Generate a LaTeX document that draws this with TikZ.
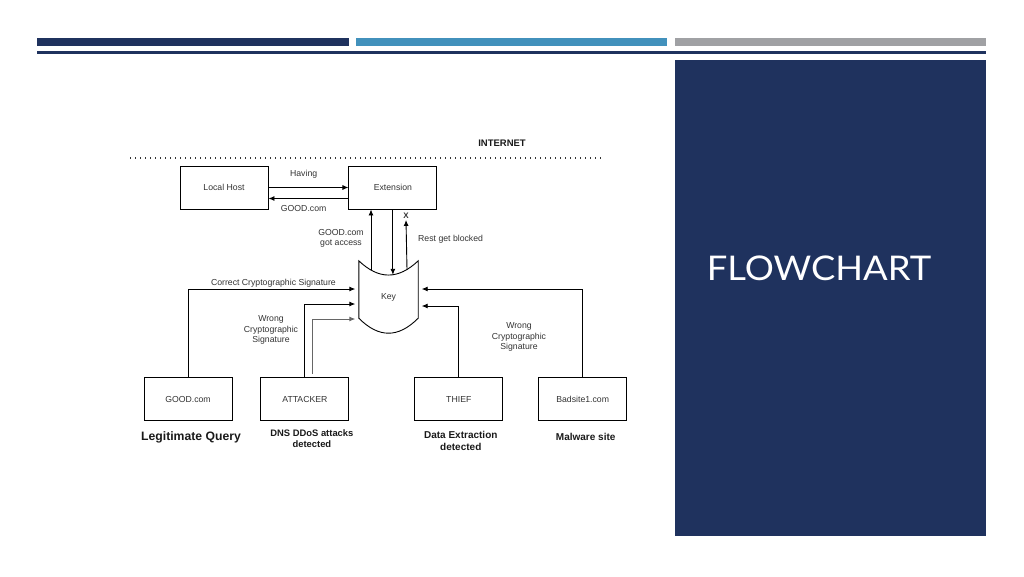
\documentclass[tikz,border=0pt]{standalone}
\usepackage{fontspec}
\setmainfont{Liberation Sans}
\newfontfamily\titlefont[FakeStretch=1.07]{Lato}
\usetikzlibrary{
    arrows.meta,      % For Latex arrowheads
    positioning,      % For right=of, below=of
    calc              % For points on the key shape
}
\definecolor{navy}{RGB}{31,50,94}
\definecolor{steel}{RGB}{66,145,188}
\definecolor{silver}{RGB}{160,161,164}
\definecolor{ink}{RGB}{51,51,51}
\tikzset{
  % Style for the plain boxes
  box/.style={
    rectangle, draw, line width=0.9pt, minimum width=88pt,
    minimum height=43pt, text=ink, font=\fontsize{8.7}{10}\selectfont
  },
  % Style for labels next to the arrows
  lbl/.style={
    text=ink, align=center, inner sep=1pt,
    font=\fontsize{8.7}{10.2}\selectfont
  },
  % Style for bold captions under the boxes
  caption/.style={
    align=center, inner sep=0pt, text=black!90,
    font=\bfseries\fontsize{10}{12}\selectfont
  },
  % Style for arrows
  arrow/.style={
    -{Latex[length=6pt,width=5pt]}, line width=0.9pt
  }
}

\begin{document}
\begin{tikzpicture}[x=1pt, y=-1pt, node distance=28pt]
    \useasboundingbox (0,0) rectangle (1024,576);
    % slide frame
    \fill[navy] (37,38) rectangle (349,46);
    \fill[steel] (356,38) rectangle (667,46);
    \fill[silver] (675,38) rectangle (986,46);
    \fill[navy] (37,51) rectangle (986,53.5);
    \fill[navy] (675,60) rectangle (986,536);
    \node (title) at (819,268) [text=white, font=\titlefont\fontsize{34}{36}\selectfont] {FLOWCHART};

    \node (internet) at (502,143) [font=\bfseries\fontsize{9.5}{11}\selectfont, text=black!90] {INTERNET};
    \draw[line width=1.4pt, dash pattern=on 1.4pt off 3.6pt, ink] (130,158) -- (603,158);

    \node[box] (lhost) at (224,187.5) {Local Host};
    \node[box, right=80pt of lhost] (ext) {Extension};

    \draw[arrow] (lhost.east) -- node[lbl, pos=0.44, above=8pt] {Having} (ext.west);
    \draw[arrow] ([yshift=-11pt]ext.west) -- node[lbl, pos=0.56, below=5pt] {GOOD.com} ([yshift=-11pt]lhost.east);

    % key shape
    \node (key) at (388.5,297) [minimum width=59pt, minimum height=72pt, lbl] {Key};
    \draw[line width=0.9pt] (key.north west) .. controls +(20,19) and +(-20,19) .. (key.north east)
        -- ([yshift=15pt]key.south east) .. controls +(-20,20) and +(20,20) .. ([yshift=15pt]key.south west) -- cycle;
    \coordinate (kup) at ($(key.north)+(-17.5,9)$);
    \coordinate (kdip) at ($(key.north)+(0,14)$);
    \coordinate (kblk) at ($(key.north)+(18.5,9)$);
    \node (xmark) at (406,216) [font=\bfseries\fontsize{8}{9}\selectfont, text=ink, inner sep=1pt] {X};

    \draw[arrow] (kup) -- (kup |- ext.south);
    \draw[arrow] (ext.south) -- (ext.south |- kdip);
    \draw[arrow] (kblk) -- (xmark.south);
    \node[lbl] (access) at (341,238) {GOOD.com\\got access};
    \node[lbl, anchor=west] (blocked) at (417,239) {Rest get blocked};

    % senders
    \node[box] (good) at (188,399) {GOOD.com};
    \node[box, right=28pt of good] (attacker) {ATTACKER};
    \node[box, right=65pt of attacker] (thief) {THIEF};
    \node[box, right=35pt of thief] (badsite) {Badsite1.com};

    \draw[arrow, shorten >=3.5pt] (good.north) |- node[lbl, pos=0.75, above=0pt] {Correct Cryptographic Signature} ([yshift=8pt]key.west);
    \draw[arrow, shorten >=3.5pt] (attacker.north) |- ([yshift=-7pt]key.west);
    \draw[arrow, shorten >=3.5pt, black!60] ([xshift=8pt, yshift=3pt]attacker.north) |- ([yshift=-22pt]key.west);
    \draw[arrow, shorten >=3.5pt] (thief.north) |- ([yshift=-9pt]key.east);
    \draw[arrow, shorten >=3.5pt] (badsite.north) |- ([yshift=8pt]key.east);
    \node[lbl] (wrongl) at (271,330) {Wrong\\Cryptographic\\Signature};
    \node[lbl] (wrongr) at (519,337) {Wrong\\Cryptographic\\Signature};

    \node[caption, below=11pt of good, xshift=3pt, font=\bfseries\fontsize{12.2}{14}\selectfont] (legit) {Legitimate Query};
    \node[caption, below=9pt of attacker, xshift=7pt, font=\bfseries\fontsize{9.4}{11}\selectfont] (ddos) {DNS DDoS attacks\\detected};
    \node[caption, below=10pt of thief, xshift=2pt] (extract) {Data Extraction\\detected};
    \node[caption, below=12pt of badsite, xshift=3pt] (malware) {Malware site};
\end{tikzpicture}
\end{document}
